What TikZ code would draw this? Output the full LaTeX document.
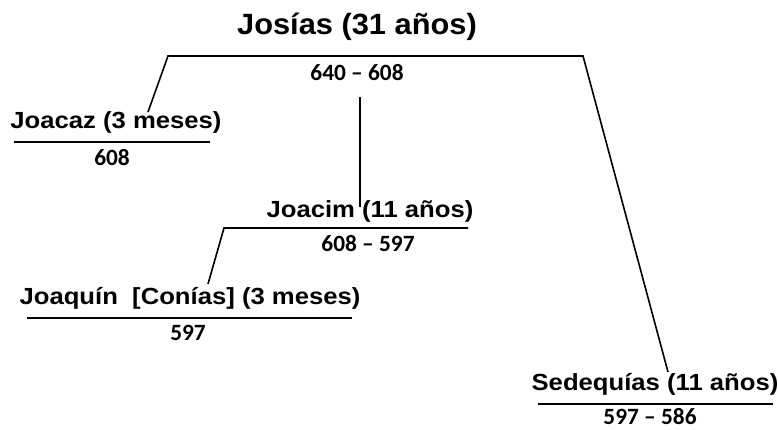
\documentclass[tikz,border=0pt]{standalone}
\usepackage{fontspec}
\usepackage{tikz}
\newfontfamily\titlefont[FakeStretch=1.05]{Liberation Sans}
\newfontfamily\namefont[FakeStretch=1.1]{Liberation Sans}
\newfontfamily\yearfont{Carlito}
\usetikzlibrary{positioning}

\begin{document}
\begin{tikzpicture}[x=0.75pt, y=-0.75pt, semithick]
    \tikzstyle{king}=[inner sep=0pt, font=\namefont\bfseries\fontsize{17.5}{20}\selectfont]
    \tikzstyle{title}=[inner sep=0pt, font=\titlefont\bfseries\fontsize{22}{26}\selectfont]
    \tikzstyle{years}=[inner sep=0pt, font=\yearfont\bfseries\fontsize{17.5}{20}\selectfont]
    \tikzstyle{rule}=[line width=2.2pt]
    \tikzstyle{link}=[line width=1.2pt]

    \useasboundingbox (0,0) rectangle (778,429);

    % Josias
    \node[title]    (josias)    at (357,27)  {Josías (31 años)};
    \node[years]    (josiasY)   at (357,73)  {640 – 608};
    \coordinate     (ltop)      at (168,56);
    \coordinate     (rtop)      at (583,56);

    % sons
    \node[king]     (joacaz)    at (116,122) {Joacaz (3 meses)};
    \node[years]    (joacazY)   at (112,158) {608};
    \node[king]     (joacim)    at (370,211) {Joacim (11 años)};
    \node[years]    (joacimY)   at (368,244) {608 – 597};
    \node[king]     (joaquin)   at (190,298) {Joaquín\ \ [Conías] (3 meses)};
    \node[years]    (joaquinY)  at (188,333) {597};
    \node[king]     (sedequias) at (655,384) {Sedequías (11 años)};
    \node[years, text depth=0pt] (sedequiasY) at (650,416) {597 – 586};

    % ends of the lines
    \coordinate (lfoot)  at (148,112);
    \coordinate (rfoot)  at (668,372);
    \coordinate (vtop)   at (360,97);
    \coordinate (vbot)   at (360,207);
    \coordinate (jtop)   at (224,228);
    \coordinate (jright) at (468,228);
    \coordinate (jfoot)  at (208,284);

    \draw[link] (lfoot) -- (ltop) -- (rtop) -- (rfoot);
    \draw[link] (vtop) -- (vbot);
    \draw[link] (jfoot) -- (jtop) -- (jright);

    % underlines
    \draw[rule] (14,142) -- (210,142);
    \draw[rule] (27,318) -- (352,318);
    \draw[rule] (538,404) -- (773,404);

\end{tikzpicture}
\end{document}
